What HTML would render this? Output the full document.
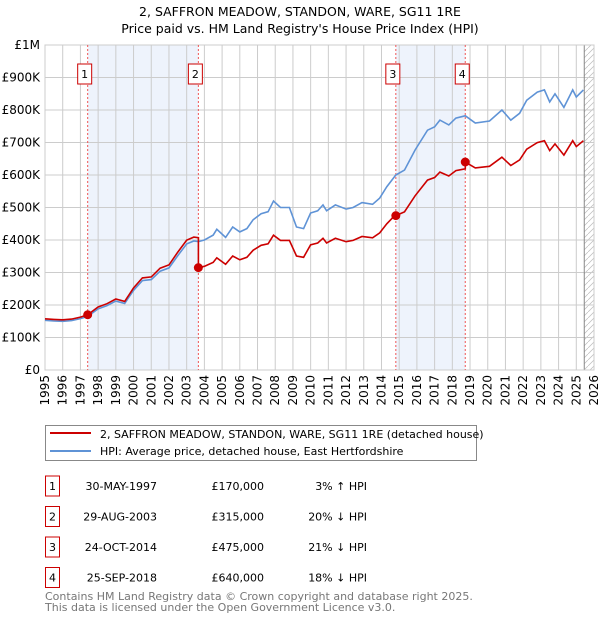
<!DOCTYPE html>
<html><head><meta charset="utf-8"><style>
body{margin:0;background:#fff;font-family:"DejaVu Sans","Liberation Sans",sans-serif;}
svg text{font-family:"DejaVu Sans","Liberation Sans",sans-serif;}
</style></head><body>
<svg id="chart" width="600" height="620" xmlns="http://www.w3.org/2000/svg">
<defs><pattern id="hatch" width="6" height="6" patternUnits="userSpaceOnUse"><path d="M0,6 L6,0" stroke="#bbb" stroke-width="0.7"/></pattern></defs>
<text x="300" y="16" text-anchor="middle" font-size="12.5" fill="#000">2, SAFFRON MEADOW, STANDON, WARE, SG11 1RE</text>
<text x="300" y="33" text-anchor="middle" font-size="12.5" fill="#000">Price paid vs. HM Land Registry's House Price Index (HPI)</text>
<g id="plot"></g>
<g>
<rect x="45.5" y="425.5" width="431" height="35" fill="#fff" stroke="#888"/>
<line x1="50" y1="433" x2="91" y2="433" stroke="#cc0000" stroke-width="2"/>
<text x="100" y="438" font-size="11">2, SAFFRON MEADOW, STANDON, WARE, SG11 1RE (detached house)</text>
<line x1="50" y1="451" x2="91" y2="451" stroke="#5f93d6" stroke-width="2"/>
<text x="100" y="455" font-size="11">HPI: Average price, detached house, East Hertfordshire</text>
</g>
<g id="table" font-size="11"></g>
<text x="45" y="600" font-size="11" fill="#777">Contains HM Land Registry data © Crown copyright and database right 2025.</text>
<text x="45" y="611" font-size="11" fill="#777">This data is licensed under the Open Government Licence v3.0.</text>
</svg>
<script>
const hpiDates=[1995,1995.5,1996,1996.5,1997,1997.41,1998,1998.5,1999,1999.5,2000,2000.5,2001,2001.5,2002,2002.5,2003,2003.4,2003.66,2004,2004.5,2004.7,2005.2,2005.6,2006,2006.4,2006.75,2007.2,2007.6,2007.9,2008.3,2008.8,2009.2,2009.6,2010,2010.4,2010.7,2010.9,2011.4,2012,2012.4,2012.9,2013.5,2013.9,2014.3,2014.81,2015.3,2015.9,2016.6,2017.0,2017.3,2017.8,2018.2,2018.73,2019.3,2020.1,2020.8,2021.3,2021.8,2022.2,2022.8,2023.2,2023.5,2023.8,2024.3,2024.8,2025.0,2025.4];
const hpiValues=[153,151,150,152,158,165,188,198,212,205,245,275,278,304,314,352,388,397,395,400,415,433,408,440,425,435,462,481,487,520,500,500,440,435,483,490,508,490,508,495,500,515,510,529,564,600,615,677,738,748,769,754,775,782,760,766,800,769,790,830,855,862,825,850,808,862,840,862];
const saleDates=[1997.41,2003.66,2014.81,2018.73];
const salePrices=[170,315,475,640];
const saleLabels=["30-MAY-1997","29-AUG-2003","24-OCT-2014","25-SEP-2018"];
const salePriceText=["£170,000","£315,000","£475,000","£640,000"];
const saleHpiText=["3% ↑ HPI","20% ↓ HPI","21% ↓ HPI","18% ↓ HPI"];
const yTicks=[0,100,200,300,400,500,600,700,800,900,1000];
const yTickLabels=["£0","£100K","£200K","£300K","£400K","£500K","£600K","£700K","£800K","£900K","£1M"];
const xYears=[];for(let y=1995;y<=2026;y++)xYears.push(y);

const X0=45,X1=594,Y0=370,Y1=45;
const xs=t=>X0+(t-1995)/(2026-1995)*(X1-X0);
const ys=v=>Y0-v/1000*(Y0-Y1);
const NS="http://www.w3.org/2000/svg";
const plot=document.getElementById('plot');
function mk(tag,attrs,parent){const e=document.createElementNS(NS,tag);for(const k in attrs)e.setAttribute(k,attrs[k]);(parent||plot).appendChild(e);return e;}
function hpiAt(t){for(let i=1;i<hpiDates.length;i++){if(t<=hpiDates[i]){const f=(t-hpiDates[i-1])/(hpiDates[i]-hpiDates[i-1]);return hpiValues[i-1]+f*(hpiValues[i]-hpiValues[i-1]);}}return hpiValues[hpiValues.length-1];}

// shaded bands
let b1=mk('rect',{x:xs(saleDates[0]),y:Y1,width:xs(saleDates[1])-xs(saleDates[0]),height:Y0-Y1,fill:'#eef3fc'});


let b2=mk('rect',{x:xs(saleDates[2]),y:Y1,width:xs(saleDates[3])-xs(saleDates[2]),height:Y0-Y1,fill:'#eef3fc'});


let hz=mk('rect',{x:xs(2025.45),y:Y1,width:X1-xs(2025.45),height:Y0-Y1,fill:'url(#hatch)'});


// grid
xYears.forEach(y=>{const l=mk('line',{x1:xs(y),x2:xs(y),y1:Y1,y2:Y0,stroke:'#ccc','stroke-width':1});


const tx=mk('text',{x:0,y:0,'font-size':12,'text-anchor':'end',transform:`translate(${xs(y)+4},375) rotate(-90)`});tx.textContent=y;

});
yTicks.forEach((v,i)=>{const l=mk('line',{x1:X0,x2:X1,y1:ys(v),y2:ys(v),stroke:'#ccc','stroke-width':1});


const tx=mk('text',{x:40,y:ys(v)+4,'font-size':12,'text-anchor':'end'});tx.textContent=yTickLabels[i];

});
mk('line',{x1:xs(2025.45),x2:xs(2025.45),y1:Y1,y2:Y0,stroke:'#888','stroke-width':1});
mk('rect',{x:X0,y:Y1,width:X1-X0,height:Y0-Y1,fill:'none',stroke:'#ccc'});
// sale markers lines
saleDates.forEach((d,i)=>{const l=mk('line',{x1:xs(d),x2:xs(d),y1:Y1,y2:Y0,stroke:'#e55','stroke-width':1,'stroke-dasharray':'2,2'});


const g=mk('g',{});


mk('rect',{x:xs(d)-10,y:64,width:14,height:20,fill:'#fff',stroke:'#cc0000'},g);
const t=mk('text',{x:xs(d)-3,y:78,'font-size':11,'text-anchor':'middle'},g);t.textContent=i+1;});
// HPI line
let hp=hpiDates.map((d,i)=>`${xs(d).toFixed(1)},${ys(hpiValues[i]).toFixed(1)}`).join(' ');
const hl=mk('polyline',{points:hp,fill:'none',stroke:'#5f93d6','stroke-width':1.6});


// property line: HPI indexed from each sale
function factorAt(t){let k=0;for(let i=0;i<saleDates.length;i++)if(t>=saleDates[i])k=i;return salePrices[k]/hpiAt(saleDates[k]);}
let pts=[];
hpiDates.forEach((d,i)=>{
  saleDates.forEach((s,k)=>{if(k>0&&i>0&&hpiDates[i-1]<s&&d>=s){const h=hpiAt(s);pts.push([s,h*salePrices[k-1]/hpiAt(saleDates[k-1])]);pts.push([s,salePrices[k]]);}});
  pts.push([d,hpiValues[i]*factorAt(d)]);});
const rl=mk('polyline',{points:pts.map(p=>`${xs(p[0]).toFixed(1)},${ys(p[1]).toFixed(1)}`).join(' '),fill:'none',stroke:'#cc0000','stroke-width':1.6});


saleDates.forEach((d,i)=>{const c=mk('circle',{cx:xs(d),cy:ys(salePrices[i]),r:4.5,fill:'#cc0000'});

});
// table
const tb=document.getElementById('table');
saleDates.forEach((d,i)=>{const y=486+i*30.5;
const g=mk('g',{},tb);


mk('rect',{x:45.5,y:y-10,width:14,height:20,fill:'#fff',stroke:'#cc0000'},g);
let t=mk('text',{x:52.5,y:y+4,'text-anchor':'middle'},g);t.textContent=i+1;
t=mk('text',{x:157,y:y+4,'text-anchor':'end'},g);t.textContent=saleLabels[i];
t=mk('text',{x:264,y:y+4,'text-anchor':'end'},g);t.textContent=salePriceText[i];
t=mk('text',{x:367,y:y+4,'text-anchor':'end'},g);t.textContent=saleHpiText[i];});
</script>
</body></html>
